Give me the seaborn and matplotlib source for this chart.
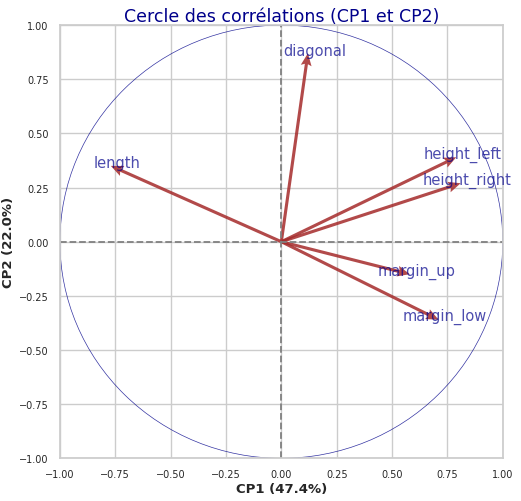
import numpy as np
import matplotlib
matplotlib.use("Agg")
import matplotlib.pyplot as plt
import seaborn as sns

# loadings on CP1 / CP2
variables = ['diagonal', 'height_left', 'height_right', 'margin_low', 'margin_up', 'length']
cp1 = [0.12, 0.79, 0.81, 0.71, 0.58, -0.77]
cp2 = [0.87, 0.39, 0.27, -0.36, -0.15, 0.35]
var_ratio = [47.4, 22.0]

sns.set_theme(style='whitegrid')
fig, ax = plt.subplots(figsize=(5.21, 5.02), dpi=100)

ax.quiver(np.zeros(len(cp1)), np.zeros(len(cp2)), cp1, cp2,
          angles='xy', scale_units='xy', scale=1, color='#a52a2a', alpha=0.85,
          width=0.007, headwidth=3.5, headlength=4, headaxislength=3.5)
for name, x, y in zip(variables, cp1, cp2):
    ax.text(x + 0.03, y - 0.02, name, fontsize=10.5, ha='center', va='bottom',
            color='darkblue', alpha=0.7)

circle = plt.Circle((0, 0), 1, facecolor='none', edgecolor='darkblue', lw=0.5, alpha=0.8)
ax.add_patch(circle)
ax.axhline(0, color='grey', ls='--', lw=1.3)
ax.axvline(0, color='grey', ls='--', lw=1.3)

ax.set_xlim(-1, 1)
ax.set_ylim(-1, 1)
ax.tick_params(labelsize=7, pad=2)
ax.set_xlabel(f'CP1 ({var_ratio[0]}%)', fontsize=9.5, fontweight='bold', labelpad=2)
ax.set_ylabel(f'CP2 ({var_ratio[1]}%)', fontsize=9.5, fontweight='bold', labelpad=3)
ax.set_title('Cercle des corrélations (CP1 et CP2)', fontsize=12.5, color='darkblue', pad=3)

plt.subplots_adjust(left=0.115, right=0.965, top=0.948, bottom=0.085)
plt.savefig('out.png', dpi=100)
